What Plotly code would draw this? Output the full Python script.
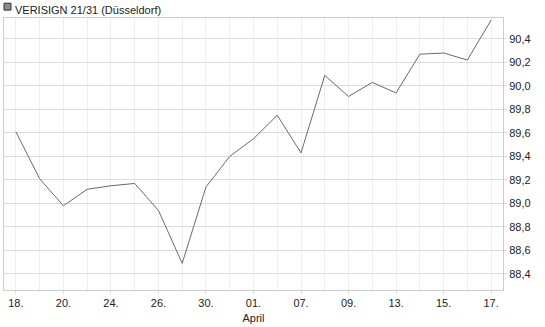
import plotly.graph_objects as go

dates = ["18.03", "19.03", "20.03", "23.03", "24.03", "25.03", "26.03", "27.03",
         "30.03", "31.03", "01.04", "02.04", "07.04", "08.04", "09.04", "10.04",
         "13.04", "14.04", "15.04", "16.04", "17.04"]
prices = [89.61, 89.21, 88.98, 89.12, 89.15, 89.17, 88.94, 88.49,
          89.14, 89.40, 89.55, 89.75, 89.43, 90.09, 89.91, 90.03,
          89.94, 90.27, 90.28, 90.22, 90.56]
tick_idx = [0, 2, 4, 6, 8, 10, 12, 14, 16, 18, 20]
tick_labels = ["18.", "20.", "24.", "26.", "30.", "01.<br>April", "07.", "09.", "13.", "15.", "17."]
y_ticks = [88.4, 88.6, 88.8, 89.0, 89.2, 89.4, 89.6, 89.8, 90.0, 90.2, 90.4]
title = "VERISIGN 21/31 (Düsseldorf)"

x = list(range(len(dates)))

fig = go.Figure()
fig.add_trace(go.Scatter(x=x, y=prices, mode="lines",
                         line=dict(color="#6a6a6a", width=1),
                         hoverinfo="skip", showlegend=False))

fig.update_layout(
    width=545, height=327,
    margin=dict(l=3, r=42, t=18, b=34),
    paper_bgcolor="white", plot_bgcolor="white",
    font=dict(family="Liberation Sans, Arial, sans-serif", size=11, color="#222"),
    separators=",.",
    showlegend=False,
    xaxis=dict(
        range=[-0.5, 20.5],
        tickmode="array", tickvals=tick_idx, ticktext=tick_labels,
        showgrid=True, gridcolor="#eeeeee", gridwidth=1,
        showline=True, linecolor="#cccccc", linewidth=1, mirror=True,
        ticks="outside", ticklen=3, tickcolor="#dddddd",
        zeroline=False, fixedrange=True,
    ),
    yaxis=dict(
        range=[88.263, 90.578], side="right",
        tickmode="array", tickvals=y_ticks,
        tickformat=".1f",
        showgrid=True, gridcolor="#dcdcdc", gridwidth=1,
        showline=True, linecolor="#cccccc", linewidth=1, mirror=True,
        ticks="outside", ticklen=3, tickcolor="#dddddd",
        zeroline=False, fixedrange=True,
    ),
)

fig.update_xaxes(minor=dict(tickvals=x, showgrid=True, gridcolor="#eeeeee", gridwidth=1))

# legend-style square before the title (plot area: 500 x 275 px)
fig.add_shape(type="rect", xref="paper", yref="paper",
              x0=0.0, x1=0.014, y0=1.029, y1=1.0545,
              fillcolor="#8a8a8a", line=dict(color="#333333", width=1))
fig.add_annotation(text=title, xref="paper", yref="paper", x=0.019, y=1.0,
                   xanchor="left", yanchor="bottom", showarrow=False, yshift=0,
                   font=dict(size=11, color="#222"))

fig.write_html("out.html")
